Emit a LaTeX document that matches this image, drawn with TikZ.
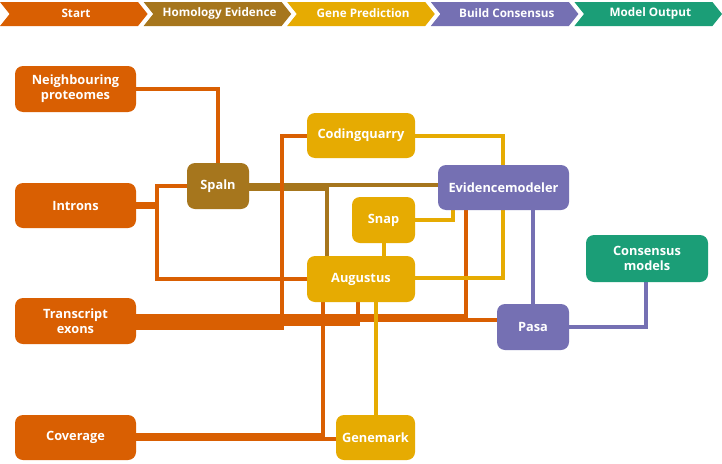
\documentclass[tikz,border=0pt]{standalone}
\usepackage{fontspec}
\setmainfont{Open Sans}
\usetikzlibrary{backgrounds}
\definecolor{cOr}{HTML}{D95F02}
\definecolor{cBr}{HTML}{A6761D}
\definecolor{cYe}{HTML}{E6AB02}
\definecolor{cPu}{HTML}{7570B3}
\definecolor{cGr}{HTML}{1B9E77}
\begin{document}
\begin{tikzpicture}[x=1pt,y=-1pt,
  box/.style={rounded corners=8pt, text=white, font=\fontsize{12.8}{15}\selectfont\bfseries, align=center, inner sep=0pt},
  hdr/.style={text=white, font=\fontsize{11.7}{13}\selectfont\bfseries, inner sep=0pt},
  link/.style={line width=4pt},
  orl/.style={link, draw=cOr},
  brl/.style={link, draw=cBr},
  yel/.style={link, draw=cYe},
  pul/.style={link, draw=cPu}]
\useasboundingbox (0,0) rectangle (722,463);
% header chevrons
\foreach \i/\c/\t in {0/cOr/Start, 1/cBr/Homology Evidence, 2/cYe/Gene Prediction, 3/cPu/Build Consensus, 4/cGr/Model Output}{
  \fill[\c] ({143.6*\i},2) -- ({143.6*\i+138},2) -- ({143.6*\i+147.6},14) -- ({143.6*\i+138},26) -- ({143.6*\i},26) -- ({143.6*\i+9.6},14) -- cycle;
  \node[hdr] (h\i) at ({143.6*\i+76},13.5) {\t};
}
% nodes
\node[box, fill=cOr, minimum width=121pt, minimum height=46pt] (np) at (75.5,89) {Neighbouring\\proteomes};
\node[box, fill=cOr, minimum width=121pt, minimum height=45pt] (intr) at (75.5,205.5) {Introns};
\node[box, fill=cOr, minimum width=121pt, minimum height=46pt] (te) at (75.5,321) {Transcript\\exons};
\node[box, fill=cOr, minimum width=121pt, minimum height=45pt] (cov) at (75.5,437.5) {Coverage};
\node[box, fill=cBr, minimum width=62pt, minimum height=46pt] (spaln) at (218,186) {Spaln};
\node[box, fill=cYe, minimum width=108pt, minimum height=45pt] (cq) at (361,135.5) {Codingquarry};
\node[box, fill=cPu, minimum width=131pt, minimum height=45pt] (evm) at (503.5,187.5) {Evidencemodeler};
\node[box, fill=cYe, minimum width=63pt, minimum height=46pt] (snap) at (383.5,220) {Snap};
\node[box, fill=cYe, minimum width=108pt, minimum height=46pt] (aug) at (361,279) {Augustus};
\node[box, fill=cPu, minimum width=72pt, minimum height=46pt] (pasa) at (533,327) {Pasa};
\node[box, fill=cGr, minimum width=122pt, minimum height=47pt] (cons) at (647,258.5) {Consensus\\models};
\node[box, fill=cYe, minimum width=79pt, minimum height=45pt] (gm) at (375.5,437.5) {Genemark};
% connectors
\begin{pgfonlayer}{background}
\fill[white] (0,0) rectangle (722,463);
\draw[brl] (spaln.east |- 0,185) -- (evm.west |- 0,185);
\draw[brl] (spaln.east |- 0,188.5) -| (aug.north -| 327,0);
\draw[orl] (np.east) -| (spaln.north);
\draw[orl] (intr.east |- 0,203.5) -- (157,203.5) |- (spaln.west);
\draw[orl] (intr.east |- 0,207) -- (157,207) |- (aug.west);
\draw[orl] (te.east |- 0,327.5) -- (282,327.5) |- (cq.west);
\draw[orl] (te.east |- 0,323.5) -| (aug.south -| 358,0);
\draw[orl] (te.east |- 0,315.5) -| (evm.south -| 466,0);
\draw[orl] (te.east |- 0,319.5) -- (pasa.west |- 0,319.5);
\draw[orl] (cov.east |- 0,435) -| (aug.south -| 323,0);
\draw[orl] (cov.east |- 0,439) -- (gm.west |- 0,439);
\draw[yel] (cq.east) -| (evm.north -| 503,0);
\draw[yel] (snap.east) -| (evm.south -| 453,0);
\draw[yel] (snap.south) -- (aug.north -| snap.south);
\draw[yel] (aug.east |- 0,278) -| (evm.south -| 503,0);
\draw[yel] (gm.north) -- (aug.south -| gm.north);
\draw[pul] (evm.south -| 533,0) -- (pasa.north);
\draw[pul] (pasa.east) -| (cons.south -| 646,0);
\end{pgfonlayer}
\end{tikzpicture}
\end{document}
